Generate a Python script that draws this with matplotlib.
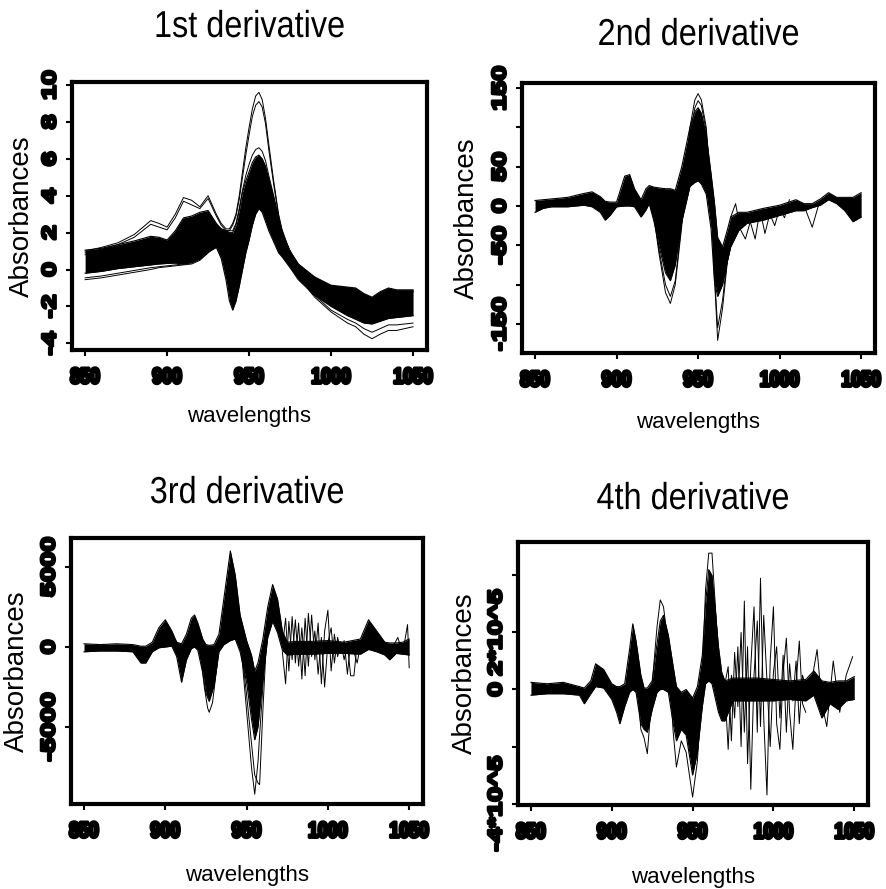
import matplotlib
matplotlib.use("Agg")
import matplotlib.pyplot as plt
from matplotlib import patheffects
from matplotlib.transforms import Affine2D

# ---- 1st derivative ----
wl1 = [850, 860, 870, 880, 890, 895, 900, 905, 910, 915, 920, 925, 930,
       933, 936, 938, 940, 942, 944, 946, 948, 950, 952, 954, 956, 958, 960, 962, 965, 968, 970,
       975, 980, 990, 1000, 1010, 1015, 1020, 1025, 1030, 1035, 1040, 1050]
d1_hi = [1.05, 1.15, 1.35, 1.55, 1.8, 1.75, 1.6, 2.1, 2.8, 2.9, 3.1, 3.2, 2.5,
         2.2, 2.1, 2.0, 2.0, 2.4, 3.2, 4.2, 4.8, 5.3, 5.8, 6.1, 6.2, 6.0, 5.6, 4.9, 3.9, 2.7, 2.0,
         1.0, 0.3, -0.4, -0.85, -0.95, -1.0, -1.3, -1.5, -1.2, -1.0, -1.1, -1.1]
d1_lo = [-0.2, -0.1, 0.05, 0.15, 0.25, 0.3, 0.33, 0.35, 0.3, 0.4, 0.6, 0.95, 1.2,
         0.6, -0.6, -1.7, -2.2, -1.7, -0.9, 0.0, 0.9, 1.6, 2.4, 3.0, 3.3, 3.1, 2.6, 2.1, 1.5, 0.9, 0.7,
         0.1, -0.55, -1.4, -2.0, -2.5, -2.7, -2.9, -2.95, -2.8, -2.65, -2.6, -2.5]
d1_out_a = [1.0, 1.2, 1.45, 1.9, 2.65, 2.5, 2.3, 3.0, 3.9, 3.75, 3.4, 4.0, 3.0,
            2.5, 2.2, 2.2, 2.5, 3.0, 4.0, 5.3, 6.6, 7.7, 8.7, 9.4, 9.6, 9.2, 8.2, 6.8, 4.8, 3.0, 2.2,
            0.9, 0.2, -0.5, -0.9, -1.0, -1.1, -1.4, -1.6, -1.3, -1.1, -1.2, -1.2]
d1_out_b = [0.9, 1.1, 1.35, 1.75, 2.45, 2.3, 2.15, 2.8, 3.7, 3.5, 3.3, 3.85, 2.9,
            2.4, 2.1, 2.1, 2.4, 2.9, 3.8, 5.0, 6.2, 7.3, 8.3, 8.9, 9.1, 8.8, 7.9, 6.5, 4.6, 2.9, 2.1,
            0.8, 0.1, -0.55, -0.95, -1.05, -1.15, -1.45, -1.6, -1.35, -1.15, -1.2, -1.2]
d1_out_c = [0.8, 0.95, 1.15, 1.4, 1.7, 1.65, 1.5, 2.0, 2.7, 2.8, 3.0, 3.1, 2.4,
            2.2, 2.1, 2.1, 2.1, 2.5, 3.3, 4.3, 5.1, 5.7, 6.2, 6.5, 6.6, 6.4, 5.9, 5.1, 4.0, 2.8, 2.1,
            1.0, 0.3, -0.45, -0.9, -1.0, -1.05, -1.35, -1.55, -1.25, -1.05, -1.15, -1.15]
d1_out_d = [-0.55, -0.45, -0.3, -0.15, 0.0, 0.1, 0.15, 0.2, 0.25, 0.3, 0.5, 0.9, 1.3,
            1.1, 0.3, -0.3, -0.5, -0.2, 0.4, 1.2, 2.0, 2.8, 3.5, 4.0, 4.2, 4.0, 3.7, 3.2, 2.5, 1.6, 1.2,
            0.3, -0.4, -1.5, -2.3, -2.9, -3.1, -3.5, -3.75, -3.5, -3.3, -3.3, -3.1]
d1_out_e = [-0.45, -0.35, -0.2, -0.05, 0.1, 0.15, 0.2, 0.25, 0.3, 0.35, 0.55, 0.95, 1.3,
            1.1, 0.4, -0.2, -0.4, -0.1, 0.5, 1.3, 2.1, 2.9, 3.6, 4.1, 4.3, 4.1, 3.8, 3.3, 2.6, 1.7, 1.2,
            0.35, -0.35, -1.4, -2.2, -2.7, -2.9, -3.2, -3.4, -3.2, -3.0, -3.0, -2.9]

# ---- 2nd derivative ----
wl2 = [850, 855, 860, 870, 880, 885, 890, 893, 896, 900, 905, 908, 911, 915, 918, 920, 923, 926,
       930, 933, 936, 940, 945, 948, 950, 952, 955, 958, 960, 962, 965, 968, 970, 975, 980, 990,
       1000, 1010, 1015, 1020, 1025, 1030, 1035, 1040, 1045, 1050]
d2_hi = [7, 8, 9, 11, 16, 18, 12, 6, 5, 5, 38, 40, 22, 8, 22, 26, 24, 23,
         22, 22, 20, 50, 100, 120, 125, 118, 90, 40, 5, -40, -52, -30, -14, -8, -8, -3,
         1, 8, 3, 3, 9, 17, 11, 11, 11, 17]
d2_lo = [-8, -3, -1, -1, 1, -1, -8, -18, -12, -1, 0, 0, -1, -14, -5, 3, -20, -50,
         -85, -95, -75, -20, 25, 30, 32, 28, 15, -30, -95, -115, -100, -70, -52, -31, -22, -18,
         -12, -6, -6, -2, 1, 8, 3, -6, -20, -14]
wl2_out = [920, 923, 926, 930, 933, 936, 940, 945, 948, 950, 952, 955, 958, 960, 962, 965, 968, 972]
d2_out_a = [5, -15, -60, -110, -124, -100, -25, 100, 135, 143, 135, 100, 20, -90, -171, -130, -70, -30]
d2_out_b = [5, -12, -55, -100, -115, -95, -20, 90, 125, 134, 128, 95, 15, -85, -155, -120, -65, -28]
wl2_noise = [970, 973, 976, 979, 982, 985, 988, 991, 994, 997, 1000, 1003, 1006]
d2_noise = [-14, 3, -30, -42, -20, -42, -5, -35, -10, -25, -3, -15, 8]
wl2_dip = [1012, 1016, 1020, 1024]
d2_dip = [0, -5, -27, 2]

# ---- 3rd derivative ----
wl3 = [850, 860, 870, 880, 885, 888, 892, 896, 900, 904, 907, 910, 913, 916, 918, 920, 923, 925,
       927, 930, 933, 936, 940, 943, 946, 950, 953, 955, 957, 960, 963, 966, 969, 972, 975, 980,
       990, 1000, 1010, 1020, 1025, 1030, 1035, 1038, 1042, 1046, 1050]
d3_hi = [200, 150, 200, 150, 50, 50, 300, 1200, 1700, 1000, 300, 200, 800, 1800, 2000, 1500, 500, 150,
         100, 150, 800, 3000, 6000, 4500, 2000, 400, -500, -1500, -1000, 500, 2500, 3900, 3000, 1000, 300, 350,
         350, 400, 300, 500, 1700, 1000, 300, 250, 250, 300, 500]
d3_lo = [-300, -250, -250, -300, -1000, -1000, -300, -50, 0, 50, -600, -2200, -800, -100, 0, -200, -1600, -2900,
         -3400, -2400, -300, 150, 400, 500, -300, -2200, -4500, -5800, -5000, -2000, 600, 1600, 900, -200, -500, -450,
         -450, -400, -400, -450, -150, -300, -500, -800, -400, -450, -500]
wl3_out = [944, 947, 950, 953, 955, 957, 958, 960, 962, 964]
d3_out_a = [2000, -500, -4000, -7500, -9200, -7200, -5500, -2500, 500, 2000]
d3_out_b = [2000, -300, -3000, -6000, -8000, -8500, -8600, -4000, 0, 2000]
wl3_out2 = [918, 921, 924, 926, 927, 929, 932]
d3_out_c = [1500, 200, -2500, -3800, -4080, -3500, -1000]
wl3_noise = [972, 974, 976, 978, 980, 982, 984, 986, 988, 990, 992, 994, 996, 998, 1000, 1002, 1004,
             1006, 1008, 1010, 1012, 1014, 1016, 1018, 1020]
d3_noise_a = [0, 1800, -1500, 1900, -1000, 1500, -2000, 1800, -1200, 2000, -800, 1500, -2300, 1000, 2300,
              -1500, 800, -600, 300, -800, 200, -1800, -1800, 200, 0]
d3_noise_b = [-300, -2300, 1600, -800, 1700, -1200, 1200, -1800, 2100, -600, 1000, -1700, 600, -2500, 300,
              1200, -1000, 600, -300, 400, -1700, 300, -300, -1000, 100]
wl3_tail = [1040, 1043, 1046, 1049, 1050]
d3_tail = [0, 600, -400, 1400, -1300]

# ---- 4th derivative (values in units of 1e5) ----
wl4 = [850, 860, 870, 880, 883, 887, 890, 895, 900, 903, 905, 908, 911, 913, 915, 918, 920, 922, 925,
       928, 930, 932, 935, 938, 940, 943, 946, 950, 953, 956, 958, 960, 962, 964, 966, 968, 970, 975,
       980, 990, 1000, 1010, 1020, 1025, 1030, 1035, 1040, 1045, 1050]
d4_hi = [0.25, 0.2, 0.25, 0.1, 0.05, 0.3, 0.9, 0.7, 0.2, 0.1, 0.1, 0.2, 1.4, 2.3, 1.7, 0.5, 0.05, 0.05, 0.3,
         1.6, 2.4, 2.6, 1.9, 0.8, 0.1, -0.1, 0.0, -0.3, 0.1, 1.2, 3.0, 4.2, 4.0, 2.8, 1.5, 0.6, 0.3, 0.4,
         0.4, 0.4, 0.35, 0.3, 0.35, 0.65, 0.3, 0.25, 0.3, 0.3, 0.45]
d4_lo = [-0.2, -0.15, -0.15, -0.2, -0.5, -0.15, 0.1, 0.05, -0.35, -0.8, -1.2, -0.6, -0.1, 0.0, -0.1, -1.2, -1.4, -1.5, -0.7,
         -0.1, 0.0, 0.0, -0.1, -1.2, -1.8, -1.4, -1.6, -3.0, -2.2, -0.6, 0.2, 0.3, 0.2, -0.3, -0.8, -1.1, -1.1, -0.4,
         -0.4, -0.4, -0.4, -0.35, -0.4, -0.2, -1.0, -0.5, -0.7, -0.4, -0.35]
wl4_out = [925, 928, 930, 932, 935, 938, 940, 943, 946, 950, 953, 956, 958, 960, 962, 964, 966]
d4_out_a = [0.2, 2.2, 3.14, 2.9, 1.5, -1.5, -2.72, -1.8, -2.2, -3.77, -2.5, 0.5, 3.5, 4.78, 4.78, 3.0, 1.2]
wl4_out2 = [916, 918, 920, 922, 924]
d4_out_b = [0.0, -1.4, -1.7, -2.25, -0.8]
wl4_noise = [970, 972, 974, 976, 978, 980, 982, 984, 986, 988, 990, 992, 994, 996, 998, 1000, 1002,
             1004, 1006, 1008, 1010, 1012, 1014, 1016, 1018, 1020]
d4_noise_a = [0, -2.1, 0.5, -1.0, 1.5, -2.0, 3.1, -2.6, 0.8, 2.9, -1.5, 3.9, -1.0, -3.7, 1.0, 2.9, -1.2,
              -2.1, 0.6, 1.8, -0.8, -2.1, 0.2, 1.7, -0.5, -0.8]
d4_noise_b = [0.2, 0.8, -1.8, 1.3, -0.6, 2.0, -1.5, 1.5, -3.5, 0.5, 2.4, -1.3, 2.6, 0.3, -2.0, 0.6, 1.5,
              -1.0, 1.2, -1.5, 0.9, -0.4, 1.0, -1.2, 0.5, 0.1]
wl4_tail = [1020, 1024, 1027, 1030, 1033, 1037, 1041, 1045, 1049]
d4_tail = [0.0, 0.4, 1.4, -0.5, -1.3, 1.0, -0.8, 0.5, 1.15]

FONT = ["Liberation Sans", "DejaVu Sans"]
W, H = 887, 889


class Squeeze(patheffects.AbstractPathEffect):
    """Scale glyphs along the reading direction (about the text centre), optional heavy stroke."""

    def __init__(self, sx=1.0, stroke=0.0):
        super().__init__()
        self.sx = sx
        self.stroke = stroke

    def draw_path(self, renderer, gc, tpath, affine, rgbFace=None):
        ext = tpath.get_extents()
        cx = (ext.x0 + ext.x1) / 2
        t = Affine2D().translate(-cx, 0).scale(self.sx, 1).translate(cx, 0) + affine
        if self.stroke:
            gc0 = renderer.new_gc()
            gc0.copy_properties(gc)
            gc0.set_linewidth(self.stroke)
            gc0.set_foreground("black")
            gc0.set_joinstyle("round")
            renderer.draw_path(gc0, tpath, t, rgbFace)
            gc0.restore()
        renderer.draw_path(gc, tpath, t, rgbFace)


fig = plt.figure(figsize=(W / 100, H / 100), dpi=100)


def add_panel(x0, y0, x1, y1):
    return fig.add_axes([x0 / W, 1 - y1 / H, (x1 - x0) / W, (y1 - y0) / H])


def draw_band(ax, wl, lo, hi, scale=1.0):
    lo = [v * scale for v in lo]
    hi = [v * scale for v in hi]
    ax.fill_between(wl, lo, hi, color="black", lw=0)
    ax.plot(wl, lo, color="black", lw=0.8)
    ax.plot(wl, hi, color="black", lw=0.8)


def draw_lines(ax, wl, *curves, scale=1.0):
    for c in curves:
        ax.plot(wl, [v * scale for v in c], color="black", lw=0.7)


def style(ax, ylim, yticks, ylabels, title, title_y, xlab_y, ylab_x):
    ax.set_xlim(842, 1058.5)
    ax.set_ylim(*ylim)
    ax.set_xticks([850, 900, 950, 1000, 1050])
    ax.set_yticks(yticks)
    ax.set_yticklabels(ylabels, rotation=90, va="center")
    for s in ax.spines.values():
        s.set_linewidth(3)
    ax.tick_params(direction="out", length=4.5, width=1.5)
    ax.tick_params(axis="x", pad=8)
    ax.tick_params(axis="y", pad=4.5)
    for lab in ax.get_xticklabels():
        lab.set_fontfamily(FONT)
        lab.set_fontweight("bold")
        lab.set_fontsize(16)
        lab.set_path_effects([Squeeze(0.8, 2.3)])
    for lab in ax.get_yticklabels():
        lab.set_fontfamily(FONT)
        lab.set_fontweight("bold")
        lab.set_fontsize(14)
        lab.set_path_effects([Squeeze(1.4, 2.0)])
    bb = ax.get_position()
    cx = (bb.x0 + bb.x1) / 2
    t = fig.text(cx, 1 - title_y / H, title, ha="center", va="baseline",
                 fontsize=27, family=FONT)
    t.set_path_effects([Squeeze(0.865)])
    fig.text(cx, 1 - xlab_y / H, "wavelengths", ha="center", va="center",
             fontsize=16, family=FONT)
    cy = (bb.y0 + bb.y1) / 2
    fig.text(ylab_x / W, cy, "Absorbances", ha="center", va="center", rotation=90,
             fontsize=20, family=FONT)


# panel 1
ax1 = add_panel(72, 82, 427, 350)
draw_band(ax1, wl1, d1_lo, d1_hi)
draw_lines(ax1, wl1, d1_out_a, d1_out_b, d1_out_c, d1_out_d, d1_out_e)
style(ax1, (-4.36, 10.16), [-4, -2, 0, 2, 4, 6, 8, 10],
      ["-4", "-2", "0", "2", "4", "6", "8", "10"], "1st derivative", 37, 417, 22)

# panel 2
ax2 = add_panel(522, 83, 875, 353)
draw_band(ax2, wl2, d2_lo, d2_hi)
draw_lines(ax2, wl2_out, d2_out_a, d2_out_b)
draw_lines(ax2, wl2_noise, d2_noise)
draw_lines(ax2, wl2_dip, d2_dip)
style(ax2, (-187, 156.5), [-150, -100, -50, 0, 50, 100, 150],
      ["-150", "", "-50", "0", "50", "", "150"], "2nd derivative", 45, 423, 467)

# panel 3
ax3 = add_panel(71, 538, 423, 804)
draw_band(ax3, wl3, d3_lo, d3_hi)
draw_lines(ax3, wl3_out, d3_out_a, d3_out_b)
draw_lines(ax3, wl3_out2, d3_out_c)
draw_lines(ax3, wl3_noise, d3_noise_a, d3_noise_b)
draw_lines(ax3, wl3_tail, d3_tail)
style(ax3, (-9810, 6810), [-5000, 0, 5000], ["-5000", "0", "5000"],
      "3rd derivative", 503, 875, 17)

# panel 4
E5 = 1e5
ax4 = add_panel(518, 542, 868, 805)
draw_band(ax4, wl4, d4_lo, d4_hi, scale=E5)
draw_lines(ax4, wl4_out, d4_out_a, scale=E5)
draw_lines(ax4, wl4_out2, d4_out_b, scale=E5)
draw_lines(ax4, wl4_noise, d4_noise_a, d4_noise_b, scale=E5)
draw_lines(ax4, wl4_tail, d4_tail, scale=E5)
style(ax4, (-4.05e5, 5.17e5), [-4e5, -2e5, 0, 2e5, 4e5],
      ["-4*10^5", "", "0", "2*10^5", ""], "4th derivative", 509, 878, 465)

fig.savefig("out.png", dpi=100)
